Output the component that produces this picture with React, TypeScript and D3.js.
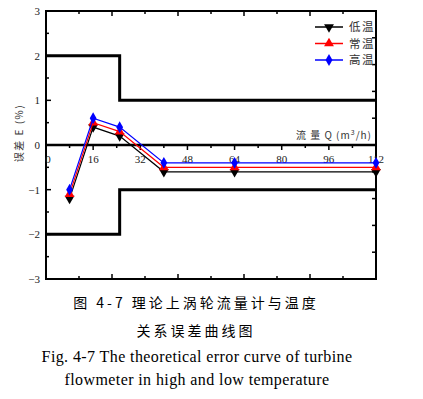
import React, { useEffect, useRef } from 'react';
import * as d3 from 'd3';

const flows = [8, 16, 25, 40, 64, 112];
const lowTemp = [-1.2, 0.4, 0.2, -0.6, -0.6, -0.6];
const normalTemp = [-1.1, 0.5, 0.3, -0.5, -0.5, -0.5];
const highTemp = [-1.0, 0.6, 0.4, -0.4, -0.4, -0.4];
const seriesNames = ['低温', '常温', '高温'];
const seriesColors = ['#000000', '#ff0000', '#0000ff'];
const xTicks = [0, 16, 32, 48, 64, 80, 96, 112];
const yTicks = [3, 2, 1, 0, -1, -2, -3];
// tolerance band corners
const limitFlows = [0, 25, 25, 112];
const upperLimit = [2, 2, 1, 1];
const lowerLimit = [-2, -2, -1, -1];
const captionLines = [
  '图 4-7  理论上涡轮流量计与温度',
  '关系误差曲线图',
  'Fig. 4-7 The theoretical error curve of turbine',
  'flowmeter in high and low temperature',
];

const App: React.FC = () => {
  const svgRef = useRef<SVGSVGElement>(null);

  useEffect(() => {
    if (!svgRef.current) return;
    const svg = d3.select(svgRef.current);
    svg.selectAll('*').remove();

    const left = 46, right = 376, top = 11, bottom = 279;
    const x = d3.scaleLinear().domain([0, 112]).range([left, right]);
    const y = d3.scaleLinear().domain([-3, 3]).range([bottom, top]);
    const serif = '"Liberation Serif", "DejaVu Serif", serif';
    const cjk = '"Noto Sans CJK SC", sans-serif';

    // --- frame ---
    svg.append('rect')
      .attr('x', left).attr('y', top)
      .attr('width', right - left).attr('height', bottom - top)
      .attr('fill', 'none').attr('stroke', '#000').attr('stroke-width', 2);

    // left ticks + labels
    d3.range(-3, 3.01, 0.5).forEach((v) => {
      const major = Math.abs(v - Math.round(v)) < 1e-6;
      svg.append('line')
        .attr('x1', left).attr('x2', left + (major ? 5 : 3))
        .attr('y1', y(v)).attr('y2', y(v))
        .attr('stroke', '#000').attr('stroke-width', 1.5);
    });
    yTicks.forEach((v) => {
      svg.append('text')
        .attr('x', left - 6).attr('y', y(v) + 4)
        .attr('text-anchor', 'end')
        .attr('font-family', serif).attr('font-size', 11)
        .attr('fill', '#222')
        .text(v < 0 ? `\u2212${Math.abs(v)}` : `${v}`);
    });

    // right ticks (10 divisions)
    d3.range(1, 10).forEach((i) => {
      const yy = top + ((bottom - top) * i) / 10;
      svg.append('line')
        .attr('x1', right).attr('x2', right - 4)
        .attr('y1', yy).attr('y2', yy)
        .attr('stroke', '#000').attr('stroke-width', 1.5);
    });

    // top & bottom ticks (10 divisions)
    d3.range(1, 10).forEach((i) => {
      const xx = left + ((right - left) * i) / 10;
      const len = i % 2 === 0 ? 5 : 3;
      svg.append('line')
        .attr('x1', xx).attr('x2', xx)
        .attr('y1', top).attr('y2', top + len)
        .attr('stroke', '#000').attr('stroke-width', 1.5);
      svg.append('line')
        .attr('x1', xx).attr('x2', xx)
        .attr('y1', bottom).attr('y2', bottom - len)
        .attr('stroke', '#000').attr('stroke-width', 1.5);
    });

    // --- zero axis ---
    svg.append('line')
      .attr('x1', left).attr('x2', right)
      .attr('y1', y(0)).attr('y2', y(0))
      .attr('stroke', '#000').attr('stroke-width', 2.5);
    d3.range(0, 113, 8).forEach((v) => {
      const major = v % 16 === 0;
      svg.append('line')
        .attr('x1', x(v)).attr('x2', x(v))
        .attr('y1', y(0)).attr('y2', y(0) + (major ? 5 : 3))
        .attr('stroke', '#000').attr('stroke-width', 1.5);
    });
    xTicks.forEach((v) => {
      svg.append('text')
        .attr('x', x(v) + (v === 0 ? 2 : 0)).attr('y', y(0) + 18)
        .attr('text-anchor', 'middle')
        .attr('font-family', serif).attr('font-size', 11)
        .attr('fill', '#222')
        .text(v);
    });

    // --- tolerance limits ---
    const limLine = d3.line<number>()
      .x((_, i) => x(limitFlows[i]))
      .y((d) => y(d));
    [upperLimit, lowerLimit].forEach((lim) => {
      svg.append('path')
        .attr('d', limLine(lim))
        .attr('fill', 'none').attr('stroke', '#000').attr('stroke-width', 3);
    });

    // --- series ---
    const allSeries = [lowTemp, normalTemp, highTemp];
    const symbols = [d3.symbolTriangle, d3.symbolTriangle, d3.symbolDiamond];
    const rotations = [180, 0, 0];
    const line = d3.line<number>()
      .x((_, i) => x(flows[i]))
      .y((d) => y(d));

    allSeries.forEach((vals, s) => {
      svg.append('path')
        .attr('d', line(vals))
        .attr('fill', 'none')
        .attr('stroke', seriesColors[s])
        .attr('stroke-width', 1.2);
      const sym = d3.symbol().type(symbols[s]).size(s === 2 ? 40 : 42);
      vals.forEach((v, i) => {
        svg.append('path')
          .attr('d', sym())
          .attr('transform', `translate(${x(flows[i])},${y(v)}) rotate(${rotations[s]})`)
          .attr('fill', seriesColors[s]);
      });
    });

    // --- legend ---
    seriesNames.forEach((name, s) => {
      const ly = 27 + s * 16.5;
      svg.append('line')
        .attr('x1', 315).attr('x2', 343)
        .attr('y1', ly).attr('y2', ly)
        .attr('stroke', seriesColors[s]).attr('stroke-width', 1.5);
      svg.append('path')
        .attr('d', d3.symbol().type(symbols[s]).size(42)())
        .attr('transform', `translate(329,${ly}) rotate(${rotations[s]})`)
        .attr('fill', seriesColors[s]);
      svg.append('text')
        .attr('x', 349).attr('y', ly + 4)
        .attr('font-family', cjk).attr('font-size', 11.5)
        .attr('letter-spacing', 1.5)
        .attr('fill', '#333')
        .text(name);
    });

    // --- axis titles ---
    svg.append('text')
      .attr('x', 372).attr('y', 139)
      .attr('text-anchor', 'end')
      .attr('font-family', cjk).attr('font-size', 10)
      .attr('letter-spacing', 1)
      .attr('fill', '#333')
      .html('流 量 Q (m<tspan dy="-4" font-size="7">3</tspan><tspan dy="4">/h)</tspan>');

    svg.append('text')
      .attr('transform', `translate(23,133) rotate(-90)`)
      .attr('text-anchor', 'middle')
      .attr('font-family', cjk).attr('font-size', 10)
      .attr('letter-spacing', 1.5)
      .attr('fill', '#333')
      .text('误差 E (%)');

    // --- captions ---
    const capY = [308, 336, 362, 385];
    captionLines.forEach((t, i) => {
      svg.append('text')
        .attr('x', i < 2 ? 196 : 197).attr('y', capY[i])
        .attr('text-anchor', 'middle')
        .attr('font-family', i < 2 ? cjk : serif)
        .attr('font-size', i < 2 ? 14 : 16)
        .attr('letter-spacing', i < 2 ? 3 : 0.4)
        .attr('fill', '#000')
        .text(t);
    });
  }, []);

  return (
    <svg
      ref={svgRef}
      width={423}
      height={399}
      style={{ position: 'absolute', left: 0, top: 0, background: '#fff' }}
    />
  );
};

export default App;
